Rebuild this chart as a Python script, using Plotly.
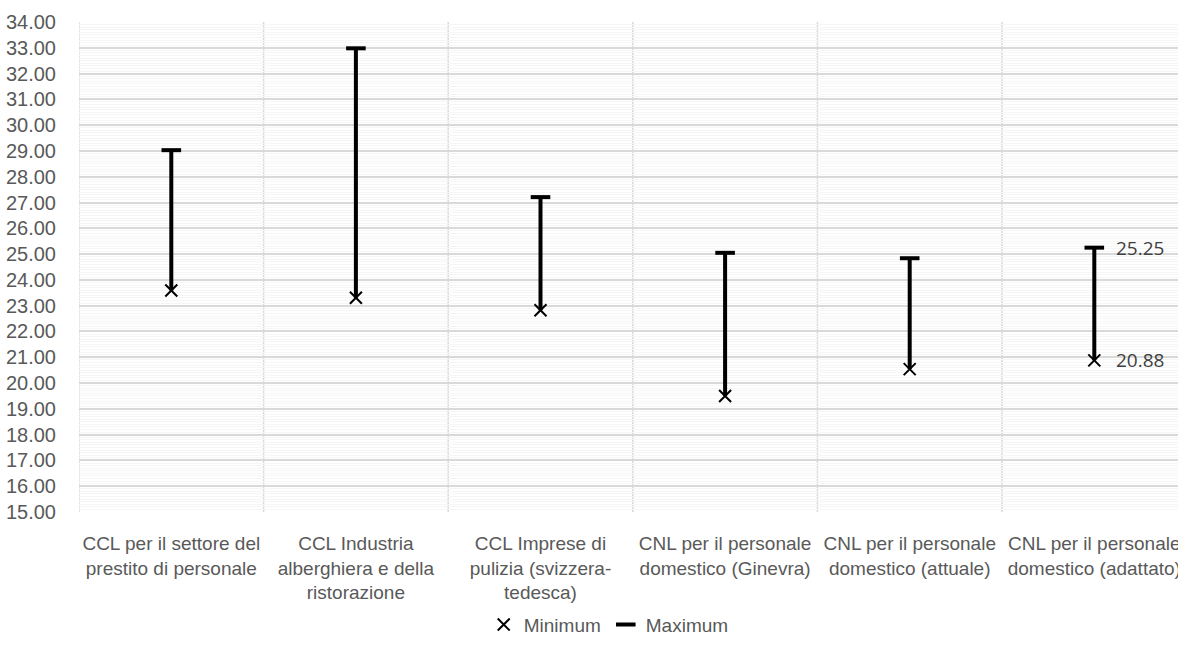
import plotly.graph_objects as go

categories = [
    "CCL per il settore del<br>prestito di personale",
    "CCL Industria<br>alberghiera e della<br>ristorazione",
    "CCL Imprese di<br>pulizia (svizzera-<br>tedesca)",
    "CNL per il personale<br>domestico (Ginevra)",
    "CNL per il personale<br>domestico (attuale)",
    "CNL per il personale<br>domestico (adattato)",
]
minimum = [23.59, 23.31, 22.82, 19.50, 20.54, 20.88]
maximum = [29.03, 32.98, 27.21, 25.05, 24.84, 25.25]
y_ticks = [15 + i for i in range(20)]
y_tick_labels = [f"{v:.2f}" for v in y_ticks]

FONT = "Liberation Sans Narrow, Arial Narrow, Liberation Sans, Arial, sans-serif"
GRAY = "#595959"

xs = list(range(len(categories)))

# high-low lines
line_x, line_y = [], []
for i in xs:
    line_x += [i, i, None]
    line_y += [minimum[i], maximum[i], None]

fig = go.Figure()
fig.add_trace(go.Scatter(x=line_x, y=line_y, mode="lines",
                         line=dict(color="black", width=4),
                         showlegend=False, hoverinfo="skip"))
fig.add_trace(go.Scatter(x=xs, y=minimum, mode="markers", name="Minimum",
                         marker=dict(symbol="x-thin", size=12,
                                     line=dict(color="black", width=2))))
fig.add_trace(go.Scatter(x=xs, y=maximum, mode="markers", name="Maximum",
                         marker=dict(symbol="line-ew", size=14,
                                     line=dict(color="black", width=4))))

# vertical category separators (between gridlines and traces)
for i in range(len(categories) + 1):
    fig.add_shape(type="line", xref="x", yref="paper", x0=i - 0.5, x1=i - 0.5,
                  y0=0, y1=1, layer="between",
                  line=dict(color="#d9d9d9", width=1.5))

last = len(categories) - 1
for v in (maximum[last], minimum[last]):
    fig.add_annotation(x=last, y=v, text=f"{v:.2f}", showarrow=False,
                       xanchor="left", yanchor="middle", xshift=20,
                       font=dict(family="Open Sans, sans-serif", size=19, color="#404040"))

cat_w = (1002 - 79) / 5
plot_w = 1178 - 79
fig.update_layout(
    width=1178, height=654,
    margin=dict(l=79, r=0, t=22, b=142, autoexpand=False),
    paper_bgcolor="white", plot_bgcolor="white",
    font=dict(family=FONT, size=19, color=GRAY),
    xaxis=dict(range=[-0.5, -0.5 + plot_w / cat_w], automargin=False,
               tickmode="array", tickvals=xs, ticktext=categories,
               showgrid=False, zeroline=False, showline=False,
               ticks="outside", ticklen=14, tickcolor="rgba(0,0,0,0)",
               ticklabeloverflow="allow",
               tickfont=dict(family=FONT, size=19, color=GRAY)),
    yaxis=dict(range=[15, 34], tickmode="array", tickvals=y_ticks, ticktext=y_tick_labels,
               automargin=False,
               showgrid=True, gridcolor="#d9d9d9", gridwidth=1.5,
               zeroline=False, showline=False,
               ticks="outside", ticklen=18, tickcolor="rgba(0,0,0,0)",
               tickfont=dict(family=FONT, size=20, color=GRAY),
               minor=dict(dtick=0.1, showgrid=True, gridcolor="#f6f6f6", gridwidth=1, ticks="")),
    legend=dict(orientation="h", x=0.482, xanchor="center", y=-0.23, yanchor="middle",
                font=dict(family=FONT, size=19, color=GRAY),
                itemwidth=30, tracegroupgap=0),
    showlegend=True,
)

fig.write_html("out.html")
